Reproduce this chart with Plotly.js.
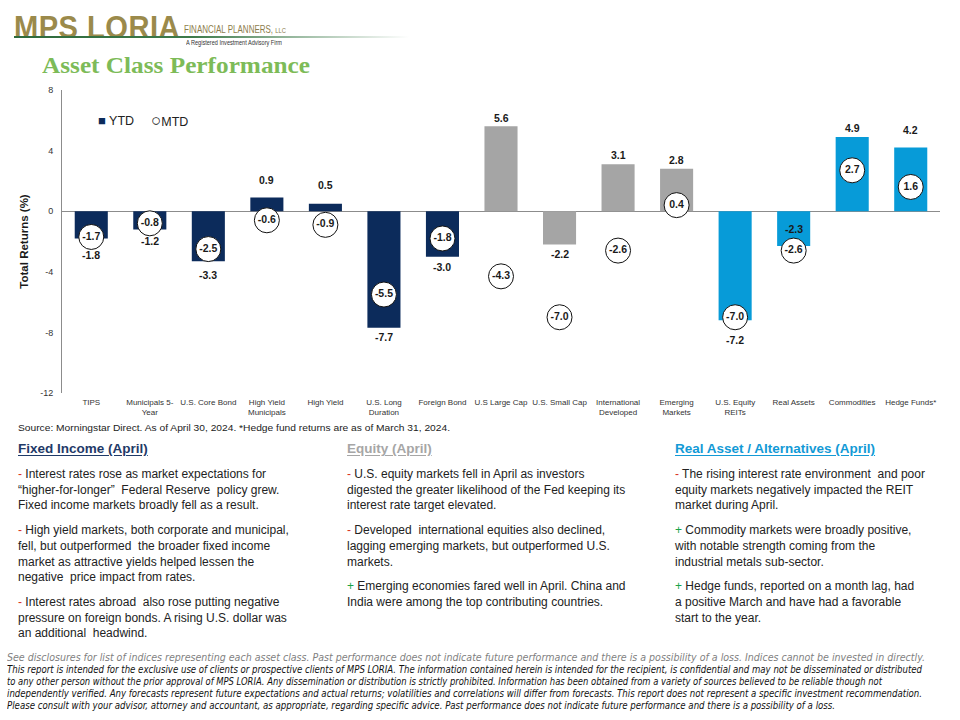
<!DOCTYPE html>
<html>
<head>
<meta charset="utf-8">
<script src="https://cdn.plot.ly/plotly-3.0.1.min.js"></script>
<style>
  body { margin: 0; background: #fff; }
  #wrap { position: relative; width: 960px; height: 720px; overflow: hidden; font-family: "Liberation Sans", Arial, sans-serif; color: #222; }
  #chart { position: absolute; left: 0; top: 0; width: 960px; height: 720px; }
  .ov { position: absolute; pointer-events: none; }
  .nw { white-space: nowrap; }
  .fit { transform-origin: 0 50%; display: inline-block; }
  .col { position: absolute; top: 440px; font-size: 12px; line-height: 15.7px; color: #222; white-space: nowrap; }
  .col h3 { margin: 0; font-size: 13.5px; line-height: 17px; font-weight: bold; text-decoration: underline; text-underline-offset: 2px; }
  .col p { margin: 9px 0 0 0; }
  .col p.first { margin-top: 10px; }
  .m { color: #d9321f; }
  .p { color: #1aa34a; }
  .foot { position: absolute; left: 7px; white-space: nowrap; font-family: "Liberation Sans Narrow", "DejaVu Sans Condensed", "Liberation Sans", sans-serif; font-style: italic; line-height: 12px; }
</style>
</head>
<body>
<div id="wrap">
  <div id="chart"></div>

  <!-- header / logo -->
  <div class="ov nw" style="left:14px;top:10px;font:bold 31px 'Liberation Sans',Arial,sans-serif;color:#9b8a4b;letter-spacing:0.5px;"><span class="fit" data-w="166">MPS LORIA</span></div>
  <div class="ov nw" style="left:184px;top:23px;font:11px 'Liberation Sans Narrow','Liberation Sans',sans-serif;color:#8c7d4c;"><span class="fit" data-w="102">FINANCIAL PLANNERS, <span style="font-size:8px">LLC</span></span></div>
  <div class="ov" style="left:14px;top:36px;width:395px;height:2px;background:linear-gradient(to right,#2e6a3c 0%,#3d7a4a 45%,rgba(90,140,100,0) 100%);"></div>
  <div class="ov nw" style="left:186px;top:39px;font:6.5px 'Liberation Sans',sans-serif;color:#333;"><span class="fit" data-w="96">A Registered Investment Advisory Firm</span></div>
  <div class="ov nw" style="left:42px;top:53px;font:bold 23px 'Liberation Serif','Times New Roman',serif;color:#7dbb58;"><span class="fit" data-w="268">Asset Class Performance</span></div>

  <!-- source -->
  <div class="ov nw" style="left:18px;top:422px;font-size:9.5px;color:#222;"><span class="fit" data-w="432">Source: Morningstar Direct. As of April 30, 2024. *Hedge fund returns are as of March 31, 2024.</span></div>

  <!-- commentary columns -->
  <div class="col" style="left:18px;">
    <h3 style="color:#1f3a68;">Fixed Income (April)</h3>
    <p class="first"><span class="m">-</span> Interest rates rose as market expectations for<br>“higher-for-longer”&nbsp; Federal Reserve&nbsp; policy grew.<br>Fixed income markets broadly fell as a result.</p>
    <p><span class="m">-</span> High yield markets, both corporate and municipal,<br>fell, but outperformed&nbsp; the broader fixed income<br>market as attractive yields helped lessen the<br>negative&nbsp; price impact from rates.</p>
    <p><span class="m">-</span> Interest rates abroad&nbsp; also rose putting negative<br>pressure on foreign bonds. A rising U.S. dollar was<br>an additional&nbsp; headwind.</p>
  </div>
  <div class="col" style="left:347px;">
    <h3 style="color:#a6a6a6;">Equity (April)</h3>
    <p class="first"><span class="m">-</span> U.S. equity markets fell in April as investors<br>digested the greater likelihood of the Fed keeping its<br>interest rate target elevated.</p>
    <p><span class="m">-</span> Developed&nbsp; international equities also declined,<br>lagging emerging markets, but outperformed U.S.<br>markets.</p>
    <p><span class="p">+</span> Emerging economies fared well in April. China and<br>India were among the top contributing countries.</p>
  </div>
  <div class="col" style="left:675px;">
    <h3 style="color:#139ad6;">Real Asset / Alternatives (April)</h3>
    <p class="first"><span class="m">-</span> The rising interest rate environment&nbsp; and poor<br>equity markets negatively impacted the REIT<br>market during April.</p>
    <p><span class="p">+</span> Commodity markets were broadly positive,<br>with notable strength coming from the<br>industrial metals sub-sector.</p>
    <p><span class="p">+</span> Hedge funds, reported on a month lag, had<br>a positive March and have had a favorable<br>start to the year.</p>
  </div>

  <!-- footer -->
  <div class="foot" style="top:652px;font-size:11px;color:#7f7f7f;"><span class="fit" data-w="918">See disclosures for list of indices representing each asset class. Past performance does not indicate future performance and there is a possibility of a loss. Indices cannot be invested in directly.</span></div>
  <div class="foot" style="top:664px;font-size:10px;color:#111;"><span class="fit" data-w="915">This report is intended for the exclusive use of clients or prospective clients of MPS LORIA. The information contained herein is intended for the recipient, is confidential and may not be disseminated or distributed</span></div>
  <div class="foot" style="top:675.5px;font-size:10px;color:#111;"><span class="fit" data-w="875">to any other person without the prior approval of MPS LORIA. Any dissemination or distribution is strictly prohibited. Information has been obtained from a variety of sources believed to be reliable though not</span></div>
  <div class="foot" style="top:687.5px;font-size:10px;color:#111;"><span class="fit" data-w="915">independently verified. Any forecasts represent future expectations and actual returns; volatilities and correlations will differ from forecasts. This report does not represent a specific investment recommendation.</span></div>
  <div class="foot" style="top:699.5px;font-size:10px;color:#111;"><span class="fit" data-w="828">Please consult with your advisor, attorney and accountant, as appropriate, regarding specific advice. Past performance does not indicate future performance and there is a possibility of a loss.</span></div>
</div>

<script>
// ---------------- data ----------------
const categories = [
  'TIPS', 'Municipals 5-<br>Year', 'U.S. Core Bond', 'High Yield<br>Municipals', 'High Yield',
  'U.S. Long<br>Duration', 'Foreign Bond', 'U.S Large Cap', 'U.S. Small Cap', 'International<br>Developed',
  'Emerging<br>Markets', 'U.S. Equity<br>REITs', 'Real Assets', 'Commodities', 'Hedge Funds*'
];
const assetGroup = [
  'fixed', 'fixed', 'fixed', 'fixed', 'fixed', 'fixed', 'fixed',
  'equity', 'equity', 'equity', 'equity',
  'alt', 'alt', 'alt', 'alt'
];
const ytdReturns = [-1.8, -1.2, -3.3, 0.9, 0.5, -7.7, -3.0, 5.6, -2.2, 3.1, 2.8, -7.2, -2.3, 4.9, 4.2];
const mtdReturns = [-1.7, -0.8, -2.5, -0.6, -0.9, -5.5, -1.8, -4.3, -7.0, -2.6, 0.4, -7.0, -2.6, 2.7, 1.6];
const yTickValues = [-12, -8, -4, 0, 4, 8];
const yTickLabels = ['-12', '-8', '-4', '0', '4', '8'];

// ---------------- styles ----------------
const groupColors = { fixed: '#0c2b5b', equity: '#a5a5a5', alt: '#079bd8' };
// distance (px) of each YTD value label from the end of its bar; null = centred inside the bar
const ytdLabelGapPx = [17, 12, 14, 18, 19, 9, 10, 8.5, 9.5, 9.5, 9, 20, null, 8.5, 18];
const fontFamily = '"Liberation Sans", Arial, sans-serif';
const labelFont = { family: fontFamily, size: 10.5, color: '#1a1a1a', weight: 700 };

const ytdTrace = {
  type: 'bar',
  name: 'YTD',
  x: categories,
  y: ytdReturns,
  marker: { color: assetGroup.map(g => groupColors[g]), line: { width: 0 } },
  showlegend: false,
  hoverinfo: 'skip'
};

const mtdTrace = {
  type: 'scatter',
  mode: 'markers',
  name: 'MTD',
  x: categories,
  y: mtdReturns,
  marker: { symbol: 'circle', size: 25, color: '#ffffff', line: { color: '#111111', width: 1 } },
  cliponaxis: false,
  showlegend: false,
  hoverinfo: 'skip'
};

const mtdLabels = {
  type: 'scatter',
  mode: 'text',
  showlegend: false,
  x: categories,
  y: mtdReturns,
  text: mtdReturns.map(v => v.toFixed(1)),
  textposition: 'middle center',
  textfont: labelFont,
  cliponaxis: false,
  hoverinfo: 'skip'
};

// YTD value labels
const annotations = categories.map((c, i) => {
  const v = ytdReturns[i];
  const gap = ytdLabelGapPx[i];
  return {
    x: c, y: gap === null ? v / 2 : v,
    xref: 'x', yref: 'y',
    yshift: gap === null ? 0 : (v >= 0 ? gap : -gap),
    text: v.toFixed(1),
    showarrow: false,
    font: labelFont
  };
});

// legend
annotations.push({
  xref: 'paper', yref: 'paper', x: 0.039, y: 0.898, xanchor: 'left', yanchor: 'middle',
  showarrow: false,
  text: '<span style="color:' + groupColors.fixed + ';font-size:13px">■</span> YTD',
  font: { family: fontFamily, size: 12.5, color: '#222' }
});
annotations.push({
  xref: 'paper', yref: 'paper', x: 0.099, y: 0.898, xanchor: 'left', yanchor: 'middle',
  showarrow: false,
  text: '<span style="font-size:17px">○</span>MTD',
  font: { family: fontFamily, size: 12.5, color: '#222' }
});

const layout = {
  width: 960,
  height: 720,
  margin: { l: 62, r: 20, t: 90, b: 327 },
  paper_bgcolor: 'rgba(0,0,0,0)',
  plot_bgcolor: 'rgba(0,0,0,0)',
  font: { family: fontFamily, color: '#222' },
  bargap: 0.435,
  showlegend: false,
  annotations: annotations,
  xaxis: {
    type: 'category',
    range: [-0.5, categories.length - 0.5],
    showgrid: false, zeroline: false, showline: false, ticks: '',
    tickfont: { size: 8, color: '#333', family: fontFamily },
    ticklabelstandoff: 3,
    tickangle: 0,
    fixedrange: true
  },
  yaxis: {
    range: [-12, 8],
    tickmode: 'array', tickvals: yTickValues, ticktext: yTickLabels,
    showgrid: false,
    zeroline: true, zerolinecolor: '#8c8c8c', zerolinewidth: 1,
    showline: true, linecolor: '#8c8c8c', linewidth: 1,
    ticks: '',
    ticklabelstandoff: 6,
    tickfont: { size: 9, color: '#333', family: fontFamily },
    title: { text: 'Total Returns (%)', font: { size: 11.5, color: '#1a1a1a', family: fontFamily, weight: 700 }, standoff: 9 },
    fixedrange: true
  }
};

Plotly.newPlot('chart', [ytdTrace, mtdTrace, mtdLabels], layout, { displayModeBar: false, staticPlot: true });

// fit header/footer text lines to their measured widths in the reference
function fitLines() {
  document.querySelectorAll('.fit').forEach(el => {
    el.style.transform = 'none';
    const w = el.getBoundingClientRect().width;
    const target = parseFloat(el.dataset.w);
    if (w > 0 && target > 0) el.style.transform = 'scaleX(' + (target / w) + ')';
  });
}
fitLines();
if (document.fonts && document.fonts.ready) document.fonts.ready.then(fitLines);
</script>
</body>
</html>
